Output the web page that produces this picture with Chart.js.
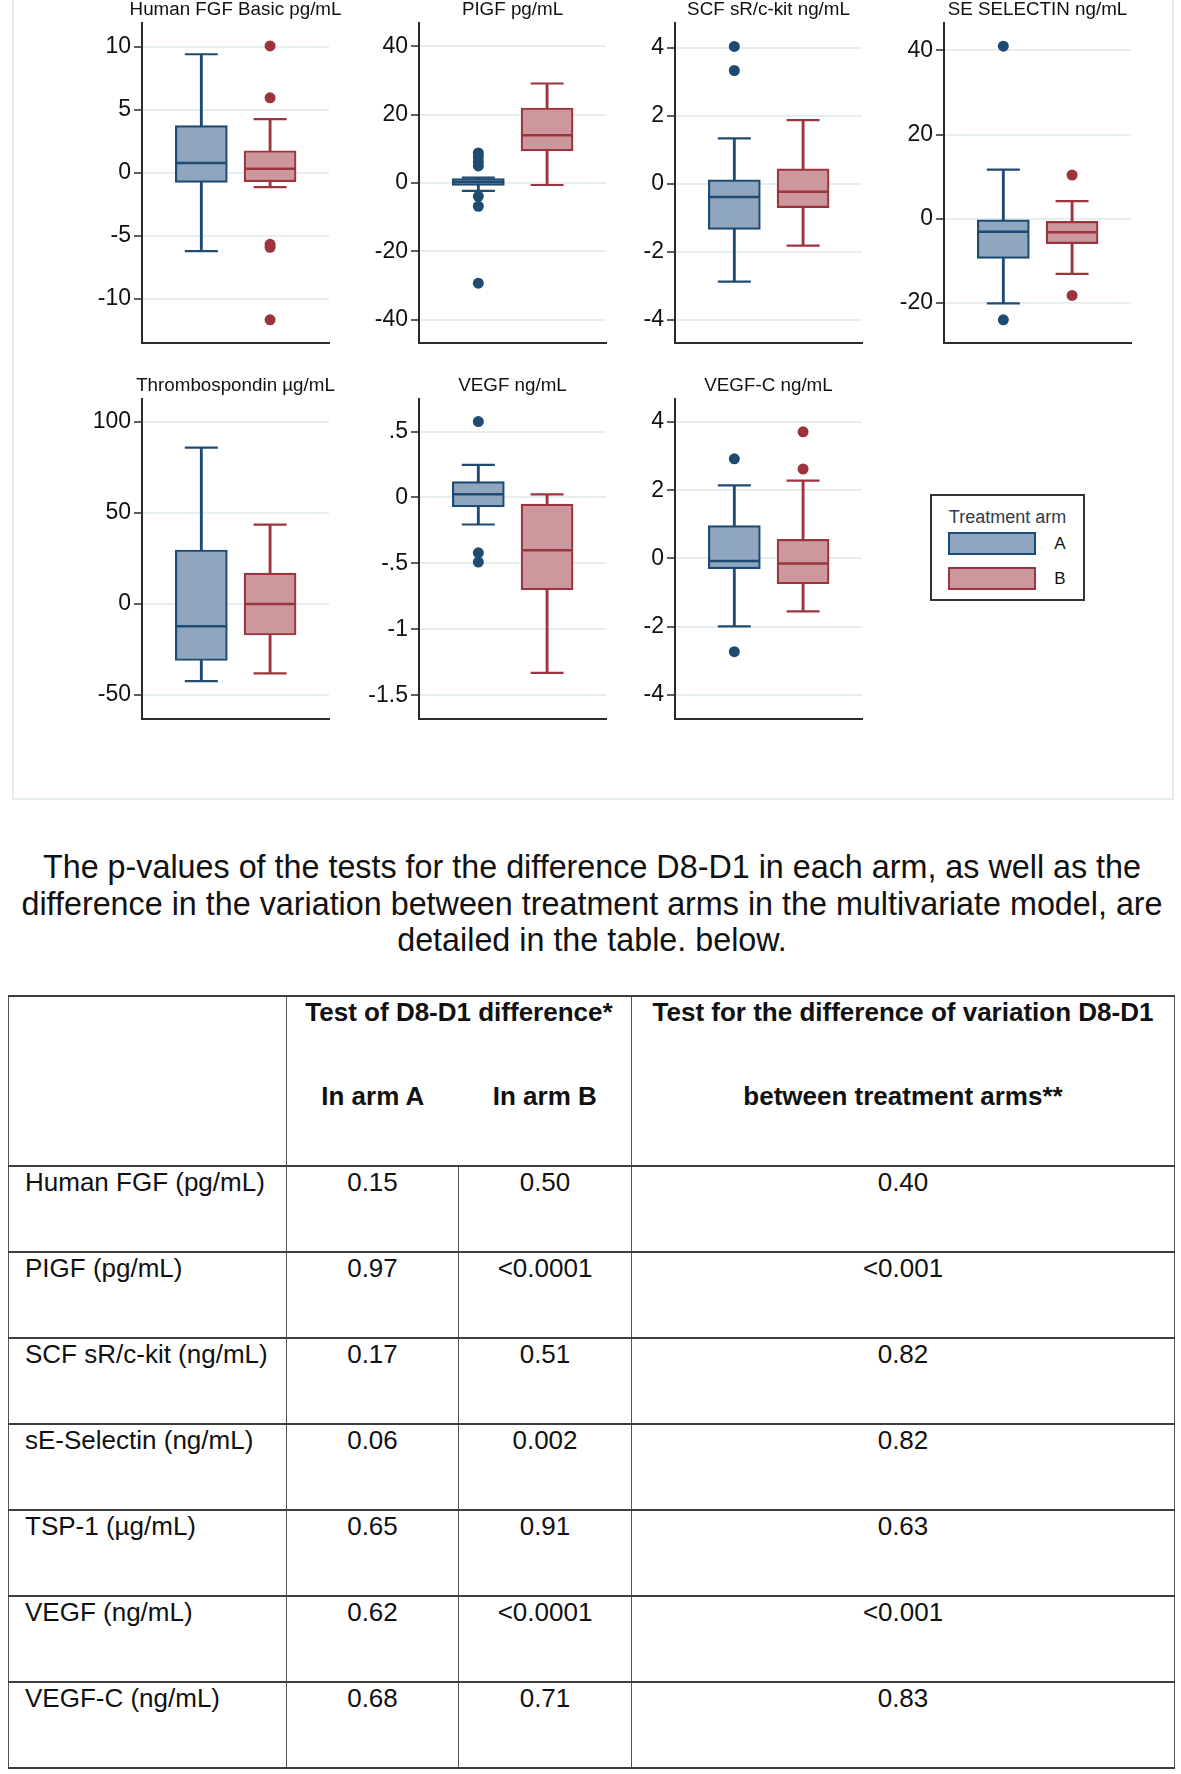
<!DOCTYPE html>
<html>
<head>
<meta charset="utf-8">
<script src="https://cdn.jsdelivr.net/npm/chart.js@4.4.1/dist/chart.umd.min.js"></script>
<style>
    body { margin: 0; background: #fff; font-family: "Liberation Sans", Arial, sans-serif; color: #111; }
    #page { position: relative; width: 1181px; height: 1774px; overflow: hidden; }
    #frame { position: absolute; left: 11.5px; top: -3px; width: 1162px; height: 803px; border: 2px solid #e4ecef; box-sizing: border-box; }
    #page canvas { position: absolute; }
    #legend { position: absolute; left: 930px; top: 494px; width: 155px; height: 107px; border: 2px solid #333; box-sizing: border-box; background: #fff; }
    #legend .title { position: absolute; left: 0; width: 100%; top: 10px; text-align: center; font-size: 18px; line-height: 22px; color: #2f3b4c; }
    #legend .swatch { position: absolute; left: 16px; width: 88px; height: 23px; border: 2px solid; box-sizing: border-box; }
    #legend .lab { position: absolute; left: 118px; width: 20px; text-align: center; font-size: 17px; line-height: 20px; color: #111; }
    #note { position: absolute; left: 0; width: 1184px; top: 849px; text-align: center; font-size: 32.3px; line-height: 36.5px; color: #111; white-space: nowrap; }
    #pvals { position: absolute; left: 8px; top: 995px; border-collapse: collapse; table-layout: fixed; font-size: 26px; }
    #pvals td { border-top: 2.5px solid #3d3d3d; border-bottom: 2.5px solid #3d3d3d; border-left: 1.5px solid #555; border-right: 1.5px solid #555;
                vertical-align: top; text-align: center; padding: 0; line-height: 31px; height: 84px; white-space: nowrap; }
    #pvals thead td { font-weight: bold; }
    #pvals td.name { text-align: left; padding-left: 16px; }
    #pvals .noTop { border-top-style: hidden; }
    #pvals .noBottom { border-bottom-style: hidden; }
    #pvals .noRight { border-right-style: hidden; }
</style>
</head>
<body>
<div id="page">
    <div id="frame"></div>

    <div id="legend">
        <div class="title">Treatment arm</div>
        <div class="swatch" style="top:36px; background:#8ea7bf; border-color:#1f4a72;"></div>
        <div class="lab" style="top:38px;">A</div>
        <div class="swatch" style="top:71px; background:#cc989d; border-color:#9b343c;"></div>
        <div class="lab" style="top:73px;">B</div>
    </div>

    <div id="note">The p-values of the tests for the difference D8-D1 in each arm, as well as the<br>difference in the variation between treatment arms in the multivariate model, are<br>detailed in the table. below.</div>

    <table id="pvals">
        <colgroup><col style="width:278px"><col style="width:172px"><col style="width:173px"><col style="width:543px"></colgroup>
        <thead>
            <tr>
                <td rowspan="2"></td>
                <td colspan="2" class="noBottom">Test of D8-D1 difference*</td>
                <td class="noBottom">Test for the difference of variation D8-D1</td>
            </tr>
            <tr>
                <td class="noTop noRight">In arm A</td>
                <td class="noTop">In arm B</td>
                <td class="noTop">between treatment arms**</td>
            </tr>
        </thead>
        <tbody id="pvalsBody"></tbody>
    </table>
</div>

<script>
// panel titles
const panelTitles = ['Human FGF Basic pg/mL', 'PIGF pg/mL', 'SCF sR/c-kit ng/mL', 'SE SELECTIN ng/mL',
    'Thrombospondin µg/mL', 'VEGF ng/mL', 'VEGF-C ng/mL'];

// arm A: whisker ends, quartiles, median (one value per panel)
const lowA = [-6.2, -2.3, -2.88, -20.1, -42.3, -0.205, -1.99];
const q1A = [-0.75, -0.68, -1.34, -9.4, -31.0, -0.071, -0.30];
const medA = [0.78, 0.3, -0.39, -3.08, -12.2, 0.025, -0.07];
const q3A = [3.76, 1.27, 0.12, 0, 29.7, 0.121, 0.96];
const highA = [9.42, 1.6, 1.34, 11.7, 85.9, 0.247, 2.14];
const outA = [[], [8.8, 7.7, 6.3, 5.0, -3.9, -6.8, -29.3], [4.05, 3.34], [41.0, -24.0], [], [0.576, -0.42, -0.49], [2.92, -2.73]];

// arm B
const lowB = [-1.12, -0.59, -1.82, -13.1, -38.0, -1.33, -1.55];
const q1B = [-0.70, 9.37, -0.70, -5.9, -17.0, -0.70, -0.74];
const medB = [0.33, 13.95, -0.23, -3.2, 0, -0.40, -0.15];
const q3B = [1.76, 21.95, 0.44, -0.63, 17.0, -0.05, 0.56];
const highB = [4.27, 29.1, 1.88, 4.2, 43.6, 0.023, 2.28];
const outB = [[10.08, 5.96, -5.67, -5.9, -11.66], [], [], [10.4, -18.2], [], [], [3.71, 2.62]];

// y axes
const yTicks = [[-10, -5, 0, 5, 10], [-40, -20, 0, 20, 40], [-4, -2, 0, 2, 4], [-20, 0, 20, 40],
    [-50, 0, 50, 100], [-1.5, -1, -0.5, 0, 0.5], [-4, -2, 0, 2, 4]];
const yMin = [-13.5, -46.8, -4.69, -29.5, -63.1, -1.68, -4.70];
const yMax = [11.9, 46.8, 4.74, 46.5, 112.6, 0.747, 4.67];

// table
const tableRows = ['Human FGF (pg/mL)', 'PIGF (pg/mL)', 'SCF sR/c-kit (ng/mL)', 'sE-Selectin (ng/mL)',
    'TSP-1 (µg/mL)', 'VEGF (ng/mL)', 'VEGF-C (ng/mL)'];
const pArmA = ['0.15', '0.97', '0.17', '0.06', '0.65', '0.62', '0.68'];
const pArmB = ['0.50', '<0.0001', '0.51', '0.002', '0.91', '<0.0001', '0.71'];
const pBetween = ['0.40', '<0.001', '0.82', '0.82', '0.63', '<0.001', '0.83'];

const NAVY = '#1f4a72', NAVY_FILL = '#8ea7bf';
const MAROON = '#9b343c', MAROON_FILL = '#cc989d';
const FONT = '"Liberation Sans", Arial, sans-serif';

// plot region left edges (page px), row tops
const plotLeft = [142.4, 419, 675.2, 944.3, 142.4, 419, 675.2];
const rowTop = [0, 376];
// same margin on both sides so the title centres over the plot
const SIDE = 80, PLOT_W = 187, TITLE_H = 23, PLOT_H = 320, PAD_B = 20;

/**
 * Datasets for one box: whisker stem, box, median, caps, outside values
 */
function boxDatasets(x, stats, outliers, line, fill) {
    const [lo, q1, med, q3, hi] = stats;
    return [
        { type: 'bar', data: [{ x: x, y: [lo, hi] }], backgroundColor: line, borderWidth: 0,
          barThickness: 2.2, grouped: false, order: 4 },
        { type: 'bar', data: [{ x: x, y: [q1, q3] }], backgroundColor: fill, borderColor: line,
          borderWidth: 2.2, borderSkipped: false, barThickness: 52, grouped: false, order: 3 },
        { type: 'scatter', data: [{ x: x, y: med }], pointStyle: 'line', pointRadius: 25,
          pointBorderColor: line, pointBorderWidth: 2.5, order: 2 },
        { type: 'scatter', data: [{ x: x, y: lo }, { x: x, y: hi }], pointStyle: 'line', pointRadius: 16.5,
          pointBorderColor: line, pointBorderWidth: 2.2, order: 2 },
        { type: 'scatter', data: outliers.map(v => ({ x: x, y: v })), pointStyle: 'circle', pointRadius: 5.5,
          pointBackgroundColor: line, pointBorderColor: line, pointBorderWidth: 0, order: 1 }
    ];
}

function tickLabel(v) {
    return String(v).replace(/^(-?)0\./, '$1.');
}

const page = document.getElementById('page');

panelTitles.forEach((title, i) => {
    const row = i < 4 ? 0 : 1;
    const canvas = document.createElement('canvas');
    canvas.width = SIDE + PLOT_W + SIDE;
    canvas.height = TITLE_H + PLOT_H + PAD_B;
    canvas.style.left = (plotLeft[i] - SIDE) + 'px';
    canvas.style.top = rowTop[row] + 'px';
    page.appendChild(canvas);

    const datasets = [
        ...boxDatasets(1, [lowA[i], q1A[i], medA[i], q3A[i], highA[i]], outA[i], NAVY, NAVY_FILL),
        ...boxDatasets(2, [lowB[i], q1B[i], medB[i], q3B[i], highB[i]], outB[i], MAROON, MAROON_FILL)
    ];

    new Chart(canvas.getContext('2d'), {
        type: 'bar',
        data: { datasets: datasets },
        options: {
            responsive: false,
            animation: false,
            events: [],
            layout: { autoPadding: false, padding: { left: 0, right: 0, top: 0, bottom: PAD_B } },
            scales: {
                x: {
                    type: 'linear',
                    min: 0.137,
                    max: 2.857,
                    offset: false,
                    ticks: { display: false },
                    grid: { display: false, drawTicks: false },
                    border: { display: true, color: '#2b2b2b', width: 2 },
                    afterFit: (scale) => { scale.height = 0; }
                },
                y: {
                    type: 'linear',
                    min: yMin[i],
                    max: yMax[i],
                    afterBuildTicks: (scale) => { scale.ticks = yTicks[i].map(v => ({ value: v })); },
                    afterFit: (scale) => { scale.width = SIDE; },
                    ticks: {
                        autoSkip: false,
                        padding: 3,
                        color: '#111',
                        font: { family: FONT, size: 23 },
                        callback: (v) => tickLabel(v)
                    },
                    grid: { color: '#e6eef2', lineWidth: 2, tickLength: 8, tickColor: '#2b2b2b', tickWidth: 1.5 },
                    border: { display: true, color: '#2b2b2b', width: 2 }
                },
                // empty right-hand axis, only reserves room so the title is centred
                yRight: {
                    type: 'linear',
                    position: 'right',
                    min: yMin[i],
                    max: yMax[i],
                    ticks: { display: false },
                    grid: { display: false, drawTicks: false },
                    border: { display: false },
                    afterFit: (scale) => { scale.width = SIDE; }
                }
            },
            plugins: {
                legend: { display: false },
                tooltip: { enabled: false },
                title: {
                    display: true,
                    text: title,
                    color: '#111',
                    font: { family: FONT, size: 18.8, weight: 'normal', lineHeight: 1 },
                    padding: { top: 0, bottom: TITLE_H - 18.8 }
                }
            }
        }
    });
});

// p-value table body
const tbody = document.getElementById('pvalsBody');
tableRows.forEach((name, i) => {
    const tr = document.createElement('tr');
    [name, pArmA[i], pArmB[i], pBetween[i]].forEach((text, j) => {
        const td = document.createElement('td');
        td.textContent = text;
        if (j === 0) td.className = 'name';
        tr.appendChild(td);
    });
    tbody.appendChild(tr);
});
</script>
</body>
</html>
